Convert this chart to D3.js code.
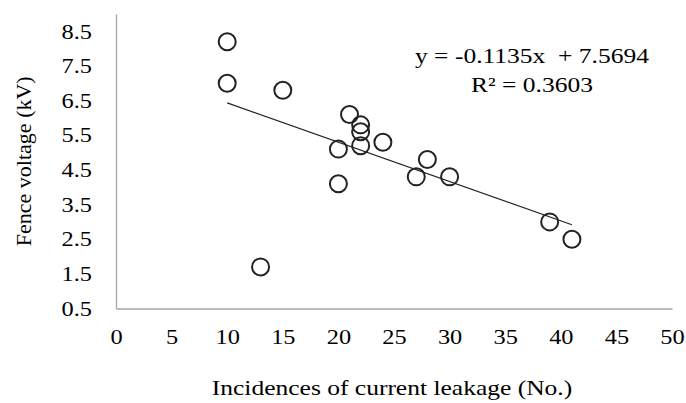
<!DOCTYPE html>
<html>
<head>
<meta charset="utf-8">
<script src="https://cdn.jsdelivr.net/npm/d3@7"></script>
<style>
  body { margin: 0; background: #fff; }
  text { font-family: "Liberation Serif", "Times New Roman", serif; fill: #000; }
  /* the source figure is a bit wider than tall, so the glyphs are stretched */
  .wide { transform-box: fill-box; transform: scaleX(1.16); }
</style>
</head>
<body>
<div id="chart"></div>
<script>
// leakage incidences vs fence voltage
const leakage = [10, 10, 15, 13, 21, 22, 22, 22, 20, 24, 28, 27, 20, 30, 39, 41];
const voltage = [8.2, 7.0, 6.8, 1.7, 6.1, 5.8, 5.6, 5.2, 5.1, 5.3, 4.8, 4.3, 4.1, 4.3, 3.0, 2.5];
const xTicks = [0, 5, 10, 15, 20, 25, 30, 35, 40, 45, 50];
const yTicks = [0.5, 1.5, 2.5, 3.5, 4.5, 5.5, 6.5, 7.5, 8.5];
const slope = -0.1135, intercept = 7.5694, rSquared = 0.3603;

const W = 686, H = 403;
const margin = { top: 14, right: 14, bottom: 94, left: 116 };

const svg = d3.select("#chart").append("svg")
    .attr("width", W)
    .attr("height", H);

const x = d3.scaleLinear().domain([0, 50]).range([margin.left, W - margin.right]);
const y = d3.scaleLinear().domain([0.5, 9]).range([H - margin.bottom - 0.5, margin.top]);

// axes lines (no tick marks in the original)
const xAxis = svg.append("g")
    .attr("transform", `translate(0, ${y(0.5)})`)
    .call(d3.axisBottom(x).tickValues(xTicks).tickSize(0).tickPadding(21).tickFormat(d3.format("d")));
const yAxis = svg.append("g")
    .attr("transform", `translate(${x(0)}, 0)`)
    .call(d3.axisLeft(y).tickValues(yTicks).tickSize(0).tickPadding(24).tickFormat(d3.format(".1f")));

[xAxis, yAxis].forEach(g => {
    g.select(".domain").attr("stroke", "#a6a6a6").attr("stroke-width", 1.3);
    g.selectAll("text").style("font-size", "21px").attr("fill", "#000").classed("wide", true);
});
xAxis.selectAll("text").style("transform-origin", "center");
yAxis.selectAll("text").style("transform-origin", "right");

// trend line across the data range
const xMin = d3.min(leakage), xMax = d3.max(leakage);
svg.append("line")
    .attr("x1", x(xMin)).attr("y1", y(slope * xMin + intercept))
    .attr("x2", x(xMax)).attr("y2", y(slope * xMax + intercept))
    .attr("stroke", "#222")
    .attr("stroke-width", 1.1);

svg.selectAll("circle.pt")
    .data(leakage.map((d, i) => ({ x: d, y: voltage[i] })))
    .join("circle")
    .attr("class", "pt")
    .attr("cx", d => x(d.x))
    .attr("cy", d => y(d.y))
    .attr("r", 8.5)
    .attr("fill", "none")
    .attr("stroke", "#222")
    .attr("stroke-width", 2);

// equation label
svg.append("text")
    .attr("class", "wide")
    .attr("x", 532).attr("y", 63)
    .attr("text-anchor", "middle")
    .style("font-size", "22px")
    .style("transform-origin", "center")
    .style("white-space", "pre")
    .text(`y = ${slope}x  + ${intercept}`);
svg.append("text")
    .attr("class", "wide")
    .attr("x", 532).attr("y", 92)
    .attr("text-anchor", "middle")
    .style("font-size", "22px")
    .style("transform-origin", "center")
    .text(`R² = ${rSquared}`);

// axis titles
svg.append("text")
    .attr("transform", `translate(31, ${(y(0.5) + y(9)) / 2}) rotate(-90)`)
    .attr("text-anchor", "middle")
    .style("font-size", "22px")
    .text("Fence voltage (kV)");
svg.append("text")
    .attr("class", "wide")
    .attr("x", 392)
    .attr("y", 395)
    .attr("text-anchor", "middle")
    .style("font-size", "22px")
    .style("transform-origin", "center")
    .text("Incidences of current leakage (No.)");
</script>
</body>
</html>
